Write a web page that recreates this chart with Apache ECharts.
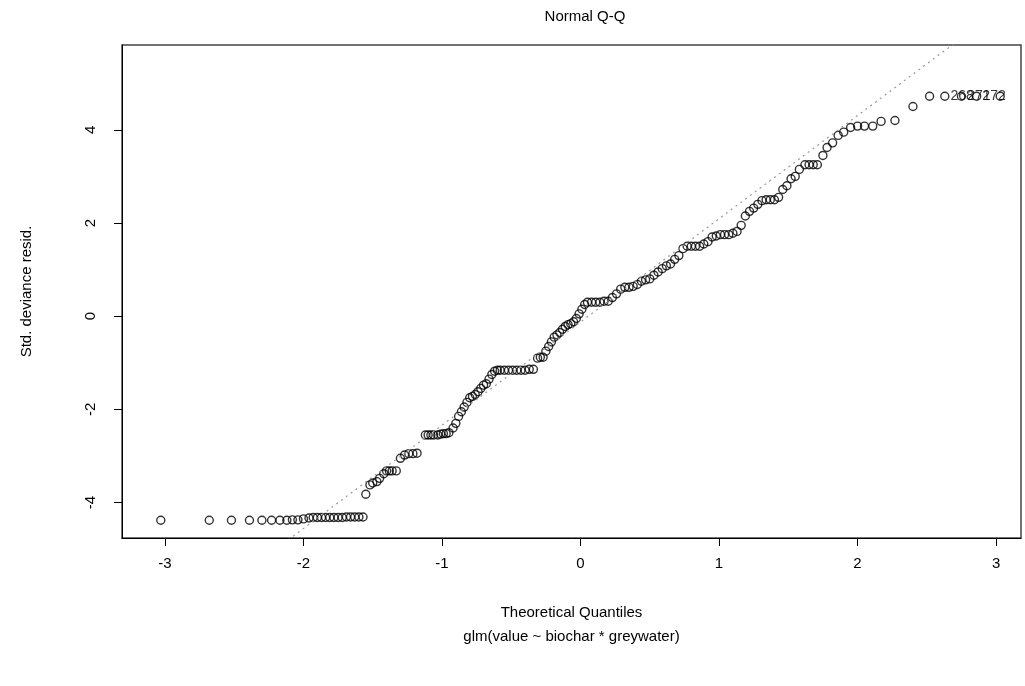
<!DOCTYPE html>
<html style="height: 100%">
<head>
  <meta charset="utf-8">
</head>
<body style="height: 100%; margin: 0; background: #fff">
  <div id="container" style="height: 100%"></div>
  <script type="text/javascript" src="https://cdn.jsdelivr.net/npm/echarts@6/dist/echarts.min.js"></script>
  <script type="text/javascript">
    // theoretical quantiles / std deviance residuals
    var qx = [-3.03, -2.68, -2.52, -2.39, -2.30, -2.23, -2.17, -2.12, -2.08, -2.04, -2.00, -1.96, -1.93, -1.90,
      -1.87, -1.84, -1.81, -1.78, -1.75, -1.72, -1.69, -1.66, -1.63, -1.60, -1.57,
      -1.55, -1.52, -1.50, -1.47, -1.45, -1.42, -1.40, -1.38, -1.36, -1.33, -1.30, -1.27, -1.24, -1.21, -1.18,
      -1.12, -1.10, -1.08, -1.06, -1.03, -1.01, -0.99, -0.97, -0.95, -0.92, -0.90, -0.88, -0.86, -0.84,
      -0.82, -0.80, -0.78, -0.76, -0.74, -0.72, -0.70, -0.68, -0.66, -0.64, -0.62, -0.60, -0.58, -0.55,
      -0.52, -0.49, -0.46, -0.43, -0.40, -0.37, -0.34, -0.31, -0.29, -0.27, -0.25, -0.23, -0.21, -0.19, -0.17,
      -0.15, -0.13, -0.11, -0.09, -0.07, -0.05, -0.03, -0.01, 0.01, 0.03, 0.05, 0.08, 0.11, 0.14, 0.17, 0.20,
      0.23, 0.26, 0.29, 0.32, 0.35, 0.38, 0.41, 0.44, 0.47, 0.50, 0.53, 0.56, 0.59, 0.62, 0.65, 0.68,
      0.71, 0.74, 0.77, 0.80, 0.83, 0.86, 0.89, 0.92, 0.95, 0.98, 1.01, 1.04, 1.07, 1.10, 1.13, 1.16,
      1.19, 1.22, 1.25, 1.28, 1.31, 1.34, 1.37, 1.40, 1.43, 1.46, 1.49, 1.52, 1.55, 1.58, 1.62, 1.65,
      1.68, 1.71, 1.75, 1.78, 1.82, 1.86, 1.90, 1.95, 2.00, 2.05, 2.11, 2.17, 2.27, 2.40, 2.52, 2.63, 2.75, 2.86, 3.03];
    var qy = [-4.38, -4.38, -4.38, -4.38, -4.38, -4.38, -4.38, -4.38, -4.37, -4.37, -4.35, -4.33, -4.32, -4.32,
      -4.32, -4.32, -4.32, -4.32, -4.32, -4.32, -4.31, -4.31, -4.31, -4.31, -4.31,
      -3.82, -3.62, -3.58, -3.55, -3.48, -3.38, -3.32, -3.32, -3.32, -3.32, -3.05, -2.98, -2.95, -2.95, -2.94,
      -2.55, -2.55, -2.55, -2.55, -2.55, -2.53, -2.52, -2.52, -2.50, -2.40, -2.30, -2.15, -2.05, -1.95,
      -1.85, -1.75, -1.72, -1.68, -1.62, -1.55, -1.48, -1.45, -1.35, -1.25, -1.18, -1.16, -1.16, -1.16,
      -1.16, -1.16, -1.16, -1.16, -1.16, -1.14, -1.14, -0.90, -0.88, -0.88, -0.75, -0.65, -0.55, -0.45, -0.40,
      -0.35, -0.28, -0.22, -0.18, -0.16, -0.12, -0.05, 0.05, 0.15, 0.25, 0.30, 0.30, 0.30, 0.30, 0.32, 0.32,
      0.40, 0.48, 0.58, 0.62, 0.62, 0.64, 0.68, 0.75, 0.78, 0.80, 0.88, 0.95, 1.02, 1.08, 1.12, 1.22,
      1.30, 1.45, 1.50, 1.50, 1.50, 1.50, 1.55, 1.60, 1.70, 1.72, 1.75, 1.75, 1.75, 1.78, 1.82, 1.95,
      2.15, 2.25, 2.32, 2.40, 2.48, 2.50, 2.50, 2.50, 2.55, 2.72, 2.80, 2.95, 3.00, 3.15, 3.25, 3.25,
      3.25, 3.25, 3.45, 3.62, 3.72, 3.88, 3.95, 4.05, 4.08, 4.08, 4.08, 4.18, 4.20, 4.50, 4.72, 4.72, 4.72, 4.72, 4.72];
    var topLabels = { '2.63': '268', '2.75': '271', '2.86': '272' };
    var refLine = [[-2.11, -4.80], [2.71, 5.88]];
    var xTicks = [-3, -2, -1, 0, 1, 2, 3];
    var yTicks = [-4, -2, 0, 2, 4];

    var pts = qx.map(function (x, i) {
      var p = { value: [x, qy[i]] };
      if (topLabels[x.toFixed(2)]) {
        p.label = { show: true, position: 'right', distance: 1, formatter: topLabels[x.toFixed(2)], color: '#000', fontSize: 14, fontFamily: 'Liberation Sans' };
      }
      return p;
    });

    var chart = echarts.init(document.getElementById('container'));
    chart.setOption({
      animation: false,
      title: { text: 'Normal Q-Q', left: 580, top: 4, textAlign: 'center',
        textStyle: { fontSize: 15, fontWeight: 'normal', color: '#000', fontFamily: 'Liberation Sans' } },
      grid: { left: 122, right: 4, top: 45, bottom: 148 },
      xAxis: {
        type: 'value', min: -3.31, max: 3.18,
        name: 'Theoretical Quantiles\nglm(value ~ biochar * greywater)',
        nameLocation: 'middle', nameGap: 63,
        nameTextStyle: { fontSize: 15, color: '#000', lineHeight: 24, fontFamily: 'Liberation Sans' },
        splitLine: { show: false },
        axisLine: { onZero: false, lineStyle: { color: '#000' } },
        axisTick: { customValues: xTicks, length: 8, lineStyle: { color: '#000' } },
        axisLabel: { customValues: xTicks, margin: 18, fontSize: 15, color: '#000', fontFamily: 'Liberation Sans' }
      },
      yAxis: {
        type: 'value', min: -4.76, max: 5.82,
        name: 'Std. deviance resid.', nameLocation: 'middle', nameGap: 88,
        nameTextStyle: { fontSize: 15, color: '#000', fontFamily: 'Liberation Sans' },
        splitLine: { show: false },
        axisLine: { show: true, onZero: false, lineStyle: { color: '#000' } },
        axisTick: { show: true, customValues: yTicks, length: 8, lineStyle: { color: '#000' } },
        axisLabel: { customValues: yTicks, rotate: 90, margin: 24, fontSize: 15, color: '#000', fontFamily: 'Liberation Sans' }
      },
      graphic: [{ type: 'rect', shape: { x: 122, y: 45, width: 899, height: 493 },
        style: { fill: 'none', stroke: '#444', lineWidth: 1.5 }, silent: true }],
      series: [{
        type: 'line', data: refLine, symbol: 'none', silent: true,
        lineStyle: { color: '#999', width: 1.2, type: [2, 4] }
      }, {
        type: 'scatter', data: pts, symbol: 'circle', symbolSize: 8,
        itemStyle: { color: 'rgba(0,0,0,0)', borderColor: '#000', borderWidth: 1.4 }
      }]
    });
  </script>
</body>
</html>
